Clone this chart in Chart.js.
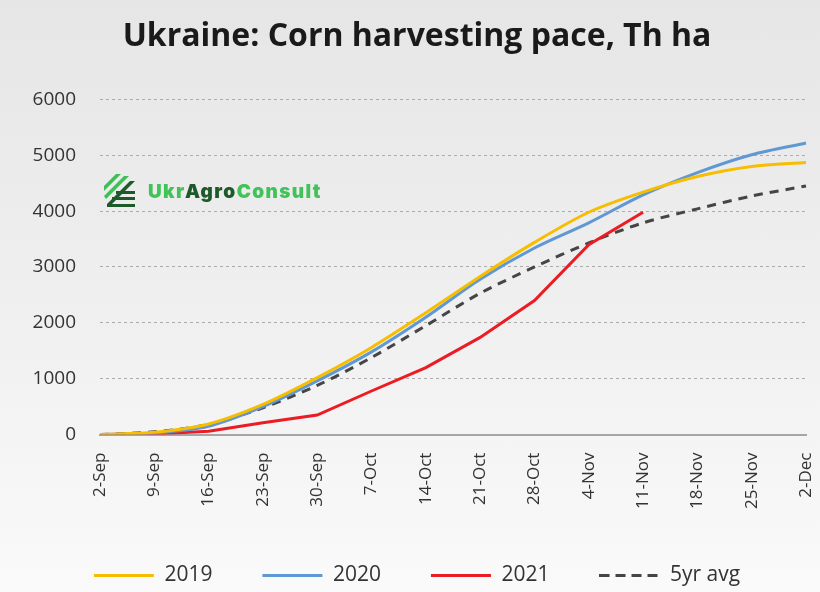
<!DOCTYPE html>
<html>
<head>
<meta charset="utf-8">
<script src="https://cdn.jsdelivr.net/npm/chart.js@4.4.1/dist/chart.umd.min.js"></script>
<style>
    html, body { margin: 0; padding: 0; }
    body {
        width: 820px; height: 592px; overflow: hidden; position: relative;
        background: linear-gradient(180deg, #e6e6e6 0%, #eeeeee 45%, #fafafa 100%);
    }
    #wrap { position: absolute; left: 0; top: 0; width: 820px; height: 592px; }
    .logo { position: absolute; left: 104px; top: 174px; display: flex; align-items: center; }
    .logo span { font-family: Inter, "Noto Sans", sans-serif; font-weight: 900; font-size: 19px; letter-spacing: 1.4px; color: #42c35a; margin-left: 12px; }
    .logo b { color: #1d5a2a; font-weight: 900; }
</style>
</head>
<body>
<div id="wrap"><canvas id="cornChart" width="820" height="592"></canvas></div>
<div class="logo">
    <svg width="32" height="34" viewBox="0 0 32 34">
        <g fill="#3cbf55">
            <polygon points="0,12 12,0 17,0 0,17"/>
            <polygon points="0,22 20,2 25,2 2,25"/>
        </g>
        <g fill="#1d5a2a">
            <polygon points="3,30 26,7 31,7 8,30"/>
            <rect x="12" y="17" width="19" height="3"/>
            <rect x="8" y="23" width="23" height="3"/>
            <rect x="3" y="30" width="28" height="3"/>
        </g>
    </svg>
    <span>Ukr<b>Agro</b>Consult</span>
</div>
<script>
// weekly cumulative harvested area, thousand ha
const weeks = ['2-Sep', '9-Sep', '16-Sep', '23-Sep', '30-Sep', '7-Oct', '14-Oct', '21-Oct', '28-Oct', '4-Nov', '11-Nov', '18-Nov', '25-Nov', '2-Dec'];
const y2019 = [0, 40, 190, 540, 1020, 1560, 2180, 2830, 3440, 3980, 4340, 4620, 4800, 4870];
const y2020 = [0, 30, 150, 500, 960, 1480, 2100, 2780, 3340, 3790, 4290, 4690, 5010, 5220];
const y2021 = [0, 10, 60, 210, 350, 780, 1200, 1740, 2400, 3400, 3980, null, null, null];
const avg5yr = [0, 50, 180, 480, 880, 1380, 1950, 2530, 3000, 3430, 3790, 4040, 4270, 4450];
const yTicks = [0, 1000, 2000, 3000, 4000, 5000, 6000];

// dashed sample for the legend (the built-in 'line' style ignores borderDash)
const dashIcon = document.createElement('canvas');
dashIcon.width = 60;
dashIcon.height = 3;
const dctx = dashIcon.getContext('2d');
dctx.fillStyle = '#454545';
[0, 16, 32, 48].forEach(x => dctx.fillRect(x, 0, 10, 3));

const ctx = document.getElementById('cornChart').getContext('2d');
new Chart(ctx, {
    type: 'line',
    data: {
        labels: weeks,
        datasets: [
            { label: '2019', data: y2019, borderColor: '#f7bd00', backgroundColor: '#f7bd00', borderWidth: 3, tension: 0.3, pointStyle: 'line' },
            { label: '2020', data: y2020, borderColor: '#5f98d3', backgroundColor: '#5f98d3', borderWidth: 3, tension: 0.3, pointStyle: 'line' },
            { label: '2021', data: y2021, borderColor: '#ec1c24', backgroundColor: '#ec1c24', borderWidth: 3, tension: 0, pointStyle: 'line' },
            { label: '5yr avg', data: avg5yr, borderColor: '#454545', backgroundColor: '#454545', borderWidth: 3, borderDash: [9, 7], tension: 0.3, pointStyle: dashIcon },
        ],
    },
    options: {
        responsive: false,
        animation: false,
        events: [],
        elements: { point: { radius: 0 } },
        layout: { padding: { left: 28, right: 14, top: 0, bottom: -4 } },
        plugins: {
            title: {
                display: true,
                text: 'Ukraine: Corn harvesting pace, Th ha',
                color: '#1a1a1a',
                font: { family: '"Open Sans"', size: 32, weight: 'bold' },
                padding: { top: 18, bottom: 43 },
            },
            legend: {
                position: 'bottom',
                labels: {
                    usePointStyle: true,
                    pointStyleWidth: 60,
                    boxHeight: 20,
                    color: '#333',
                    font: { family: '"Open Sans"', size: 21 },
                    padding: 50,
                },
            },
            tooltip: { enabled: false },
        },
        scales: {
            x: {
                offset: false,
                grid: { display: false, drawTicks: false },
                border: { display: true, color: '#a6a6a6', width: 2 },
                ticks: {
                    color: '#333',
                    font: { family: '"Open Sans"', size: 17 },
                    minRotation: 90,
                    maxRotation: 90,
                    padding: 18,
                    autoSkip: false,
                },
                afterFit: (axis) => {
                    axis.height = axis.height - 12;
                    axis.paddingRight = 0;
                },
            },
            y: {
                min: 0,
                max: 6000,
                afterBuildTicks: (axis) => { axis.ticks = yTicks.map(v => ({ value: v })); },
                afterFit: (axis) => { axis.width = 72; },
                grid: { color: '#ababab', lineWidth: 1, drawTicks: false },
                border: { display: false, dash: [3, 3] },
                ticks: {
                    color: '#333',
                    font: { family: '"Open Sans"', size: 19 },
                    padding: 24,
                    callback: (v) => String(v),
                },
            },
        },
    },
});
</script>
</body>
</html>
